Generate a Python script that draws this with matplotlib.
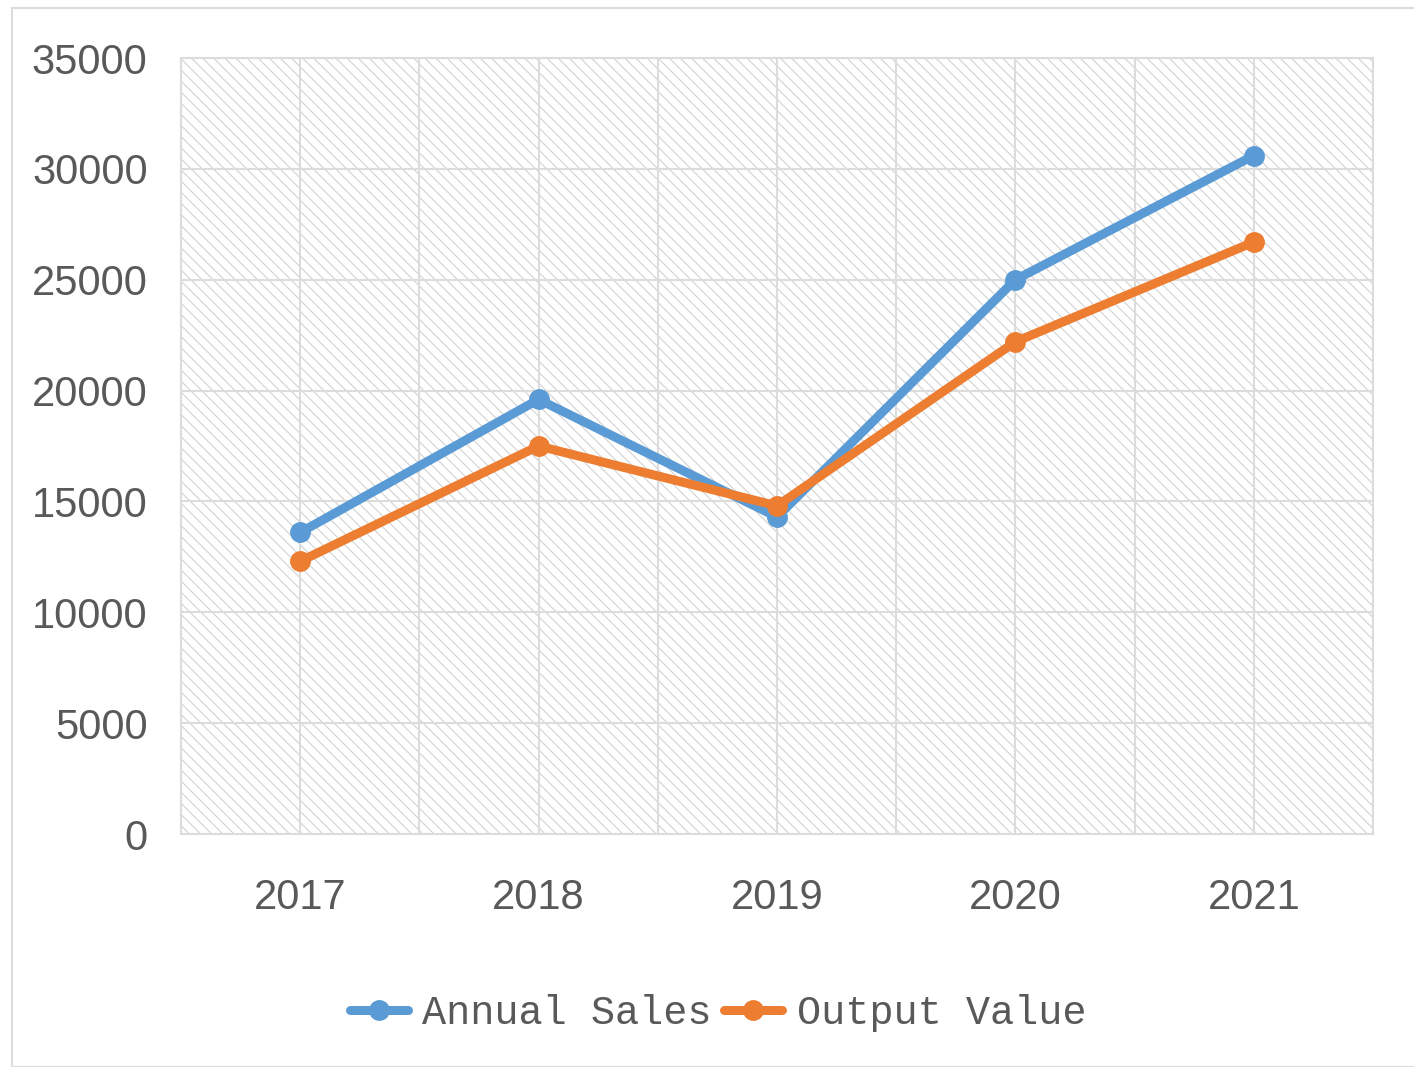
import matplotlib
matplotlib.use("Agg")
import matplotlib.pyplot as plt
from matplotlib.patches import Rectangle
from matplotlib.lines import Line2D

years = ["2017", "2018", "2019", "2020", "2021"]
annual_sales = [13600, 19600, 14300, 25000, 30600]
output_value = [12300, 17500, 14800, 22200, 26700]
y_ticks = [0, 5000, 10000, 15000, 20000, 25000, 30000, 35000]
series_names = ["Annual Sales", "Output Value"]

BLUE = "#5B9BD5"
ORANGE = "#ED7D31"
GRID = "#DCDCDC"
TEXT = "#595959"

plt.rcParams["hatch.linewidth"] = 0.8
plt.rcParams["font.family"] = ["Liberation Sans", "DejaVu Sans"]

W, H, DPI = 1414, 1067, 100
fig = plt.figure(figsize=(W / DPI, H / DPI), dpi=DPI)
fig.patch.set_facecolor("white")

# chart outer border
fig.patches.append(Rectangle((12 / W, 0), 1.2, (H - 8) / H, transform=fig.transFigure,
                             fill=False, edgecolor=GRID, linewidth=1.5, zorder=0))

ax = fig.add_axes([181 / W, (H - 834) / H, (1373 - 181) / W, (834 - 58) / H])
ax.set_facecolor("white")
ax.add_patch(Rectangle((0, 0), 1, 1, transform=ax.transAxes, facecolor="white",
                       edgecolor="#D2D2D2", hatch="\\\\\\", linewidth=0, zorder=0))

x = list(range(len(years)))
ax.set_xlim(-0.5, len(years) - 0.5)
ax.set_ylim(0, 35000)
ax.set_yticks(y_ticks)
ax.set_yticklabels([str(v) for v in y_ticks])
ax.set_xticks(x)
ax.set_xticklabels(years)
ax.set_xticks([i + 0.5 for i in range(-1, len(years))], minor=True)

ax.grid(True, which="both", axis="x", color=GRID, linewidth=1.5, zorder=1)
ax.grid(True, which="major", axis="y", color=GRID, linewidth=1.5, zorder=1)
ax.set_axisbelow(True)
ax.tick_params(which="both", length=0)
ax.tick_params(axis="y", labelsize=30, labelcolor=TEXT, pad=24)
ax.tick_params(axis="x", labelsize=30, labelcolor=TEXT, pad=32)
for s in ax.spines.values():
    s.set_color(GRID)
    s.set_linewidth(1.5)

LW, MS = 6.5, 14
ax.plot(x, annual_sales, color=BLUE, linewidth=LW, marker="o", markersize=MS,
        solid_capstyle="round", solid_joinstyle="round", zorder=3)
ax.plot(x, output_value, color=ORANGE, linewidth=LW, marker="o", markersize=MS,
        solid_capstyle="round", solid_joinstyle="round", zorder=4)

handles = [Line2D([], [], color=BLUE, linewidth=LW, marker="o", markersize=MS, solid_capstyle="round"),
           Line2D([], [], color=ORANGE, linewidth=LW, marker="o", markersize=MS, solid_capstyle="round")]
leg = fig.legend(handles, series_names, loc="center", bbox_to_anchor=(718 / W, (H - 1013) / H),
                 ncol=2, frameon=False, handlelength=1.45, handletextpad=0.35, columnspacing=0.3,
                 prop={"family": "Liberation Mono", "size": 29})
for t in leg.get_texts():
    t.set_color(TEXT)

fig.savefig("out.png", dpi=DPI)
